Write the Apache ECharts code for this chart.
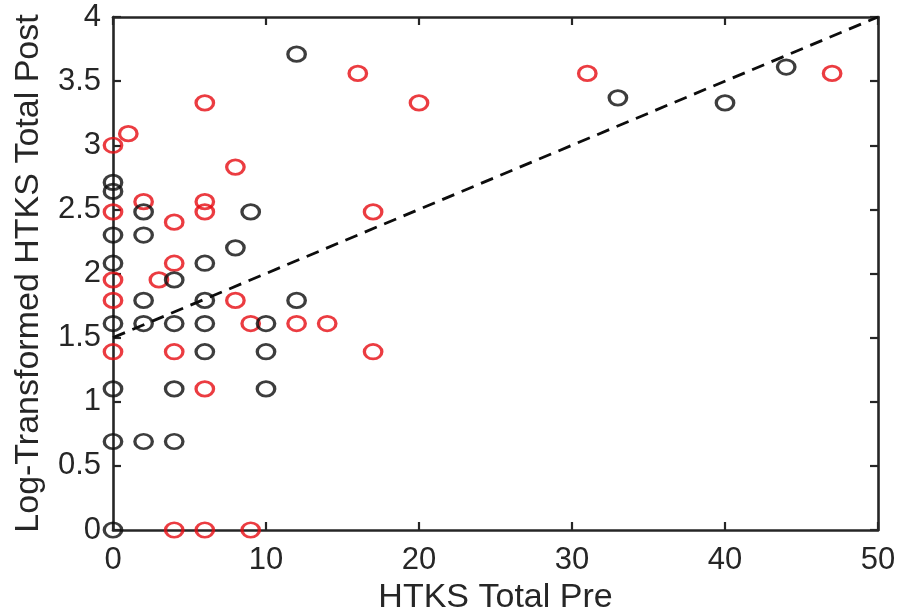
<!DOCTYPE html>
<html>
<head>
<meta charset="utf-8">
<title>HTKS Total Pre vs Post</title>
<script src="https://cdn.jsdelivr.net/npm/echarts@6/dist/echarts.min.js"></script>
<style>
  html, body { margin: 0; padding: 0; background: #ffffff; }
  #chart { width: 900px; height: 613px; }
</style>
</head>
<body>
<div id="chart"></div>
<script>
// Group A (black circles): HTKS total pre score and log-transformed post score
const groupAPre  = [0, 0, 2, 4, 0, 4, 10, 6, 10, 0, 2, 4, 6, 10, 2, 6, 12, 4, 0, 6, 8, 0, 2, 2, 9, 0, 0, 12, 33, 40, 44];
const groupAPost = [0, 0.69, 0.69, 0.69, 1.10, 1.10, 1.10, 1.39, 1.39, 1.61, 1.61, 1.61, 1.61, 1.61, 1.79, 1.79, 1.79, 1.95, 2.08, 2.08, 2.20, 2.30, 2.30, 2.48, 2.48, 2.64, 2.71, 3.71, 3.37, 3.33, 3.61];

// Group B (red circles)
const groupBPre  = [4, 6, 9, 6, 0, 4, 17, 9, 12, 14, 0, 8, 0, 3, 4, 4, 0, 6, 17, 2, 6, 8, 0, 1, 6, 20, 16, 31, 47];
const groupBPost = [0, 0, 0, 1.10, 1.39, 1.39, 1.39, 1.61, 1.61, 1.61, 1.79, 1.79, 1.95, 1.95, 2.08, 2.40, 2.48, 2.48, 2.48, 2.56, 2.56, 2.83, 3.00, 3.09, 3.33, 3.33, 3.56, 3.56, 3.56];

// Least-squares reference line endpoints
const fitX = [0, 50];
const fitY = [1.5, 4.0];

// Axis ticks
const xTicks = [0, 10, 20, 30, 40, 50];
const yTicks = [0, 0.5, 1, 1.5, 2, 2.5, 3, 3.5, 4];

const zip = (xs, ys) => xs.map((x, i) => [x, ys[i]]);

const axisColor = '#262626';
const font = "'Liberation Sans', Arial, sans-serif";

const chart = echarts.init(document.getElementById('chart'), null, { renderer: 'canvas' });

const markerStyle = (color) => ({
  symbol: 'circle',
  symbolSize: [17.5, 14.5],
  itemStyle: { color: 'rgba(255,255,255,0)', borderColor: color, borderWidth: 3 },
  emphasis: { disabled: true }
});

const boxAxis = (extra) => Object.assign({
  type: 'value',
  axisLine: { show: true, onZero: false, lineStyle: { color: axisColor, width: 2.6 } },
  axisTick: { show: true, inside: true, length: 8, lineStyle: { color: axisColor, width: 2.2 } },
  axisLabel: { show: false },
  splitLine: { show: false }
}, extra);

chart.setOption({
  animation: false,
  backgroundColor: '#ffffff',
  grid: { left: 113, right: 22, top: 17, bottom: 83, containLabel: false, outerBoundsMode: 'none' },
  xAxis: [
    boxAxis({
      position: 'bottom',
      min: xTicks[0], max: xTicks[xTicks.length - 1], interval: xTicks[1] - xTicks[0],
      name: 'HTKS Total Pre',
      nameLocation: 'middle',
      nameGap: 46,
      nameTextStyle: { color: axisColor, fontSize: 34, fontFamily: font },
      axisLabel: { show: true, color: axisColor, fontSize: 31, fontFamily: font, margin: 15 }
    }),
    boxAxis({
      position: 'top',
      min: xTicks[0], max: xTicks[xTicks.length - 1], interval: xTicks[1] - xTicks[0]
    })
  ],
  yAxis: [
    boxAxis({
      position: 'left',
      min: yTicks[0], max: yTicks[yTicks.length - 1], interval: yTicks[1] - yTicks[0],
      name: 'Log-Transformed HTKS Total Post',
      nameLocation: 'middle',
      nameGap: 67,
      nameTextStyle: { color: axisColor, fontSize: 34, fontFamily: font },
      axisLabel: { show: true, color: axisColor, fontSize: 31, fontFamily: font, margin: 12 }
    }),
    boxAxis({
      position: 'right',
      min: yTicks[0], max: yTicks[yTicks.length - 1], interval: yTicks[1] - yTicks[0]
    })
  ],
  series: [
    Object.assign({
      name: 'Group B',
      type: 'scatter',
      data: zip(groupBPre, groupBPost),
      z: 3
    }, markerStyle('#e60b12')),
    Object.assign({
      name: 'Group A',
      type: 'scatter',
      data: zip(groupAPre, groupAPost),
      z: 4
    }, markerStyle('#0d0d0d')),
    {
      name: 'Fit',
      type: 'line',
      data: zip(fitX, fitY),
      symbol: 'none',
      lineStyle: { color: '#0d0d0d', width: 2.8, type: [13, 8] },
      emphasis: { disabled: true },
      z: 5
    }
  ]
});
</script>
</body>
</html>
